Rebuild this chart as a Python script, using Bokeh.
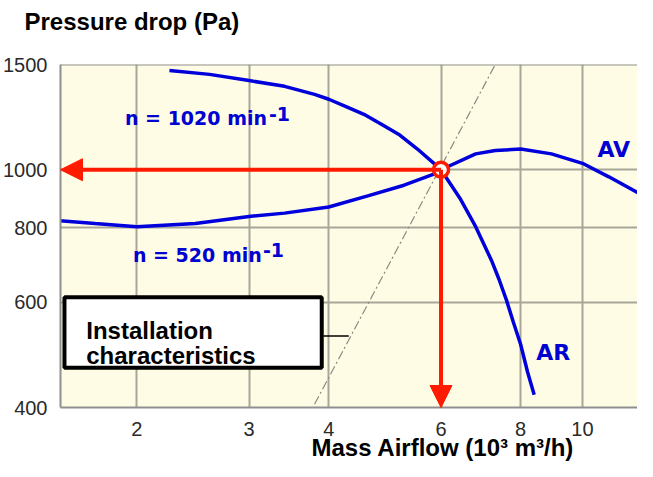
from bokeh.plotting import figure
from bokeh.models import (FixedTicker, PrintfTickFormatter, Arrow, NormalHead,
                          BoxAnnotation, Range1d, Label, Span, Title)
from bokeh.embed import file_html
from bokeh.resources import INLINE

# ---- data ----
x_ticks = [2, 3, 4, 6, 8, 10]
y_ticks = [400, 600, 800, 1000, 1500]

# n = 1020 min-1  (AR)
ar_flow = [2.25, 2.6, 3.0, 3.41, 3.8, 4.0, 4.24, 4.57, 4.83, 5.17, 5.51, 5.86, 6.0,
           6.42, 6.8, 7.2, 7.4, 7.6, 7.79, 8.0, 8.2, 8.4]
ar_pressure = [1466, 1444, 1410, 1379, 1337, 1312, 1278, 1234, 1193, 1143, 1083, 1023, 1000,
               897, 803, 705, 655, 605, 556, 510, 459, 420]

# n = 520 min-1  (AV)
av_flow = [1.51, 1.72, 2.0, 2.47, 3.02, 3.41, 4.0, 4.62, 5.25, 5.86, 6.0, 6.8, 7.3, 8.0,
           8.94, 10.0, 11.0, 12.4]
av_pressure = [822, 813, 803, 813, 836, 846, 866, 905, 942, 984, 1000, 1063, 1077, 1083,
               1063, 1025, 973, 907]

# installation characteristic
inst_flow = [3.8, 7.3]
inst_pressure = [405, 1500]

# operating point
op_flow = [6.0]
op_pressure = [1000.0]

RED = "#ff1a00"
BLUE = "#0000dc"
TXT_BLUE = "#0000d0"
GRID = "#a8a699"
FRAME = "#8f8f8f"

p = figure(width=637, height=461, x_axis_type="log", y_axis_type="log",
           x_range=Range1d(1.518, 12.2), y_range=Range1d(400, 1500),
           output_backend="svg", toolbar_location=None,
           min_border_left=56, min_border_right=0, min_border_top=64, min_border_bottom=54)

p.background_fill_color = "#fefce5"
p.border_fill_color = "white"
p.outline_line_color = None

# spacer between frame and the y description (keeps the description near the top edge)
p.add_layout(Title(text=" ", text_font_size="20px", standoff=6), "above")
p.title.text = "Pressure drop (Pa)"
p.title.align = "left"
p.title.offset = -36
p.title.standoff = 0
p.title.text_font = "Liberation Sans"
p.title.text_font_size = "24px"
p.title.text_font_style = "bold"
p.title.text_color = "black"

for ax, ticks in ((p.xaxis, x_ticks), (p.yaxis, y_ticks)):
    ax.ticker = FixedTicker(ticks=ticks)
    ax.formatter = PrintfTickFormatter(format="%d")
    ax.major_tick_line_color = None
    ax.minor_tick_line_color = None
    ax.axis_line_color = FRAME
    ax.axis_line_width = 2
    ax.major_label_text_font = "Liberation Sans"
    ax.major_label_text_font_size = "20px"
    ax.major_label_text_color = "#2a2a2a"
p.xaxis.major_label_standoff = 8
p.yaxis.major_label_standoff = 7

p.add_layout(Title(text="Mass Airflow (10\u00b3 m\u00b3/h)", align="left", offset=251,
                   vertical_align="top", standoff=-10,
                   text_font="Liberation Sans", text_font_size="24px", text_font_style="bold",
                   text_color="black"), "below")

p.xgrid.ticker = FixedTicker(ticks=x_ticks)
p.ygrid.ticker = FixedTicker(ticks=y_ticks)
for g in (p.xgrid, p.ygrid):
    g.grid_line_color = GRID
    g.grid_line_width = 2

p.add_layout(Span(location=1500, dimension="width", line_color=FRAME, line_width=2))

# installation characteristic (dash-dot)
p.line(inst_flow, inst_pressure, line_color="#8a8a80", line_width=1.2, line_dash="9 3 2 3")

# red arrows
head_kw = dict(size=22, fill_color=RED, line_color=RED, line_width=1)
p.add_layout(Arrow(end=NormalHead(**head_kw), x_start=op_flow[0], y_start=op_pressure[0],
                   x_end=1.518, y_end=op_pressure[0], line_color=RED, line_width=4))
p.add_layout(Arrow(end=NormalHead(**head_kw), x_start=op_flow[0], y_start=op_pressure[0],
                   x_end=op_flow[0], y_end=400, line_color=RED, line_width=4))

# fan curves
p.line(ar_flow, ar_pressure, line_color=BLUE, line_width=3.5)
p.line(av_flow, av_pressure, line_color=BLUE, line_width=3.5)

# operating point
p.scatter(op_flow, op_pressure, size=15, fill_color="white", line_color=RED, line_width=3.5)

# installation box
p.add_layout(BoxAnnotation(left=1.54, right=3.9, top=612, bottom=466,
                           fill_color="white", fill_alpha=1.0,
                           line_color="black", line_width=4, line_alpha=1.0))
p.add_layout(Arrow(end=None, x_start=3.92, y_start=527, x_end=4.3, y_end=527,
                   line_color="black", line_width=1.5))
box_kw = dict(text_font="Liberation Sans", text_font_size="24px", text_font_style="bold",
              text_color="black", text_baseline="alphabetic")
p.add_layout(Label(x=1.666, y=539, text="Installation", **box_kw))
p.add_layout(Label(x=1.666, y=488, text="characteristics", **box_kw))

# curve labels
lab_kw = dict(text_font="DejaVu Sans", text_font_size="19px", text_font_style="bold",
              text_color=TXT_BLUE, text_baseline="alphabetic")
p.add_layout(Label(x=1.916, y=1220, text="n = 1020 min", **lab_kw))
p.add_layout(Label(x=1.916, y=1220, text="-1", x_offset=144, y_offset=4, **lab_kw))
p.add_layout(Label(x=1.972, y=719, text="n = 520 min", **lab_kw))
p.add_layout(Label(x=1.972, y=719, text="-1", x_offset=130, y_offset=5, **lab_kw))
big_kw = dict(lab_kw, text_font_size="22px")
p.add_layout(Label(x=10.56, y=1083, text="AV", **big_kw))
p.add_layout(Label(x=8.46, y=494, text="AR", **big_kw))

open("out.html", "w").write(file_html(p, INLINE))
